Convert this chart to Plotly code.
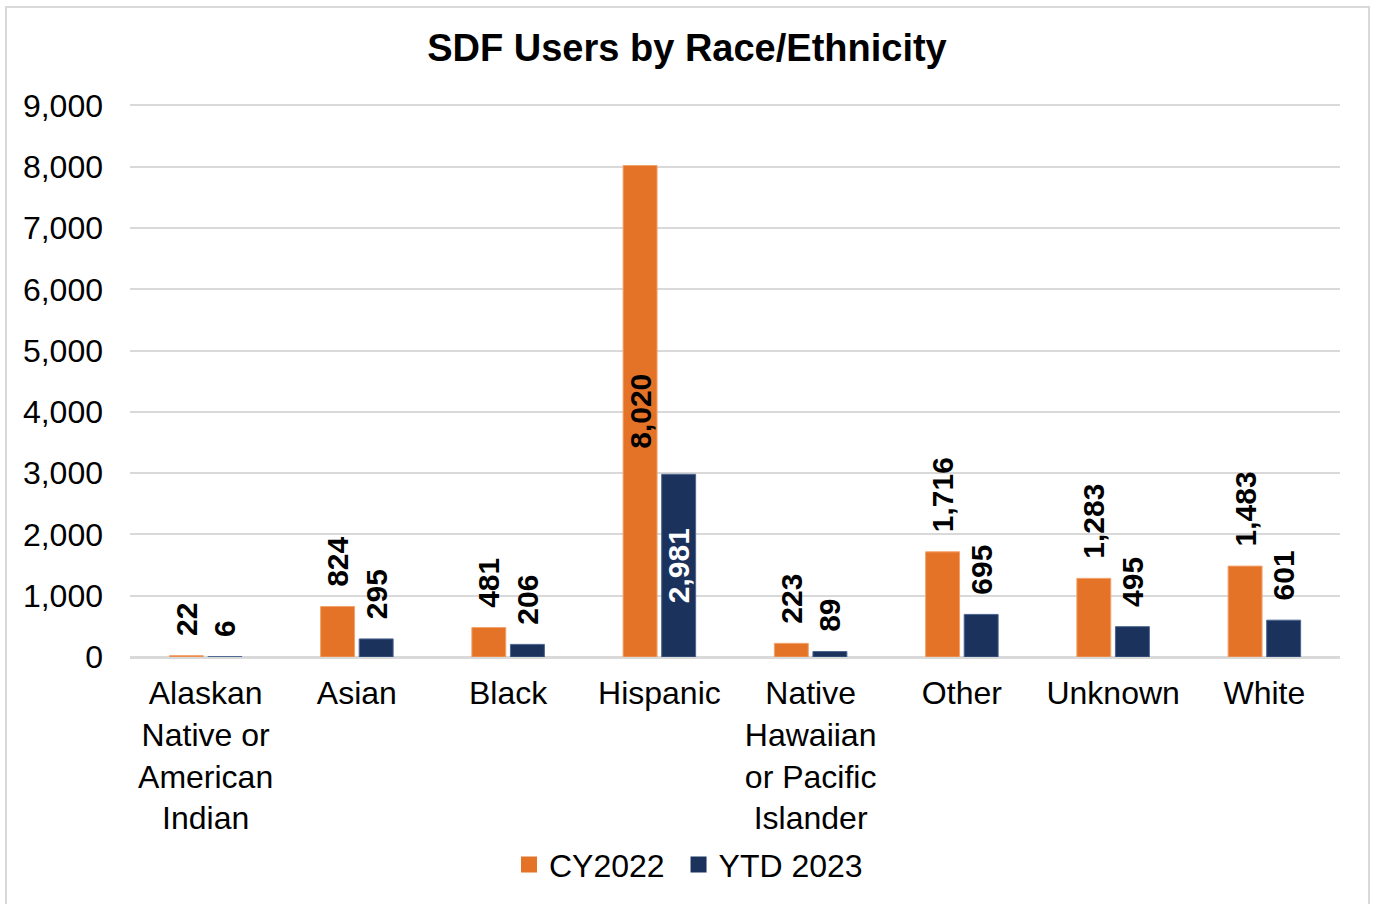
import plotly.graph_objects as go

categories = ["Alaskan<br>Native or<br>American<br>Indian", "Asian", "Black", "Hispanic",
              "Native<br>Hawaiian<br>or Pacific<br>Islander", "Other", "Unknown", "White"]
cy2022 = [22, 824, 481, 8020, 223, 1716, 1283, 1483]
ytd2023 = [6, 295, 206, 2981, 89, 695, 495, 601]
y_ticks = [0, 1000, 2000, 3000, 4000, 5000, 6000, 7000, 8000, 9000]
series_names = ["CY2022", "YTD 2023"]

ORANGE = "#E47327"
NAVY = "#1B325C"
FONT = "Liberation Sans, Arial, sans-serif"
INSIDE_LIMIT = 2500
PAD = "\u00a0\u00a0"
Y_MAX_TICK = 9000
Y_RANGE_TOP = 9040   # a little headroom so the 9,000 gridline is drawn


def positions(vals):
    return ["inside" if v > INSIDE_LIMIT else "outside" for v in vals]


def labels(vals):
    return [f"{v:,}" if v > INSIDE_LIMIT else PAD + f"{v:,}" for v in vals]


fig = go.Figure()
fig.add_trace(go.Bar(
    name=series_names[0], x=categories, y=cy2022, showlegend=False,
    marker=dict(color=ORANGE, line=dict(color="#F2A36B", width=1)),
    text=labels(cy2022), textposition=positions(cy2022),
    textangle=-90, insidetextanchor="middle", constraintext="none",
    textfont=dict(family=FONT, size=30, color="black", weight="bold"),
    cliponaxis=False,
))
fig.add_trace(go.Bar(
    name=series_names[1], x=categories, y=ytd2023, showlegend=False,
    marker=dict(color=NAVY, line=dict(color="#4A6590", width=1)),
    text=labels(ytd2023), textposition=positions(ytd2023),
    textangle=-90, insidetextanchor="middle", constraintext="none",
    textfont=dict(family=FONT, size=30,
                  color=["white" if v > INSIDE_LIMIT else "black" for v in ytd2023], weight="bold"),
    cliponaxis=False,
))
# legend entries with larger square swatches
for nm, col in zip(series_names, [ORANGE, NAVY]):
    fig.add_trace(go.Scatter(x=[None], y=[None], mode="markers", name=nm + "\u00a0",
                             marker=dict(symbol="square", size=17, color=col)))

W, H = 1374, 904
L, R, B = 130, 34, 244
ph_ticks = 555  # pixel span from 0 to 9,000
ph = ph_ticks * Y_RANGE_TOP / Y_MAX_TICK
T = H - B - ph
pw = W - L - R


def px_x(p):
    return (p - L) / pw


def px_y(p):
    return (H - B - p) / ph


fig.update_layout(
    width=W, height=H,
    margin=dict(l=L, r=R, t=T, b=B),
    paper_bgcolor="white", plot_bgcolor="white",
    font=dict(family=FONT, size=32, color="black"),
    title=dict(text="<b>SDF Users by Race/Ethnicity</b>", x=0.5, xanchor="center",
               y=1 - 48 / H, yanchor="middle", font=dict(size=38, family=FONT, color="black")),
    barmode="group", bargap=0.49, bargroupgap=0.12,
    showlegend=True,
    legend=dict(orientation="h", x=0.5 - 42 / pw, xanchor="center", y=px_y(869), yanchor="middle",
                font=dict(size=32, family=FONT), itemwidth=30, traceorder="normal"),
    xaxis=dict(showgrid=False, showline=True, linecolor="#D9D9D9", linewidth=2,
               ticks="", tickfont=dict(size=32, family=FONT), tickangle=0,
               ticklabelstandoff=7),
    yaxis=dict(range=[0, Y_RANGE_TOP], tickvals=y_ticks, tickformat=",d",
               showgrid=True, gridcolor="#D9D9D9", gridwidth=2,
               zeroline=True, zerolinecolor="#D9D9D9", zerolinewidth=2,
               showline=False, ticks="", ticklabelstandoff=26,
               tickfont=dict(size=32, family=FONT)),
    shapes=[dict(type="rect", xref="paper", yref="paper",
                 x0=px_x(6), x1=px_x(1369), y0=px_y(6), y1=px_y(920),
                 line=dict(color="#D9D9D9", width=2), fillcolor="rgba(0,0,0,0)", layer="below")],
)

fig.write_html("out.html", config={"displayModeBar": False},
               post_script="document.body.style.margin='0';")
